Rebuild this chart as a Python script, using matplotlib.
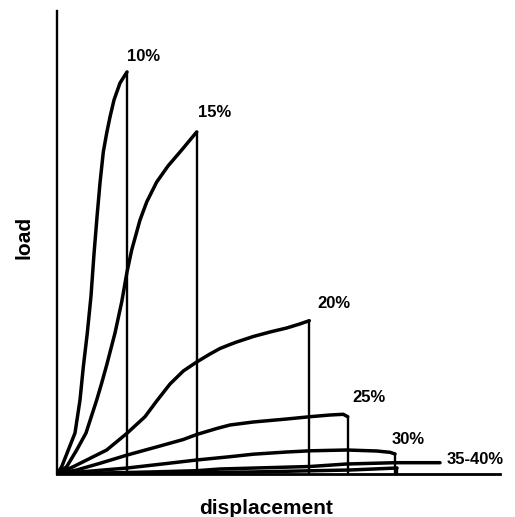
import matplotlib
matplotlib.use('Agg')
import matplotlib.pyplot as plt

plt.rcParams['font.family'] = ['Liberation Sans', 'DejaVu Sans']
plt.rcParams['font.weight'] = 'bold'

# 하중-변위 곡선 (임의 단위)
disp_10 = [0, 0.47, 1.13, 1.8, 2.3, 2.63, 3.03, 3.4, 3.7, 4.0, 4.3, 4.63, 4.97, 5.3, 5.7, 6.3, 7.0]
load_10 = [0, 0.73, 2.4, 4.1, 7.4, 10.7, 14.1, 17.8, 22.0, 25.7, 29.1, 32.2, 34.1, 35.7, 37.4, 39.1, 40.2]

disp_15 = [0, 0.97, 1.97, 2.9, 3.97, 4.47, 4.97, 5.8, 6.47, 7.0, 7.47, 8.3, 8.97, 9.97,
           11.1, 12.47, 13.3, 13.97]
load_15 = [0, 0.73, 2.4, 4.1, 7.4, 9.1, 10.9, 14.1, 17.2, 20.2, 22.4, 25.4, 27.2, 29.2,
           30.8, 32.4, 33.4, 34.2]

disp_20 = [0, 1.63, 3.63, 4.97, 7.03, 8.8, 9.97, 11.3, 12.63, 13.97, 15.3, 16.3, 17.3, 17.97,
           19.63, 21.3, 22.97, 24.27, 25.23]
load_20 = [0, 0.73, 1.73, 2.4, 4.1, 5.73, 7.3, 9.0, 10.3, 11.2, 12.0, 12.55, 12.95, 13.2,
           13.75, 14.2, 14.6, 15.0, 15.33]

disp_25 = [0, 1.97, 4.3, 7.03, 10.3, 12.63, 13.97, 15.97, 17.3, 19.63, 22.97, 25.3, 27.3, 28.63, 29.07]
load_25 = [0, 0.4, 1.07, 1.9, 2.8, 3.45, 3.95, 4.55, 4.9, 5.2, 5.5, 5.73, 5.9, 5.97, 5.73]

disp_30 = [0, 2.63, 7.03, 10.97, 13.97, 17.3, 19.63, 22.97, 25.3, 28.97, 31.97, 33.3, 33.8]
load_30 = [0, 0.23, 0.6, 1.05, 1.4, 1.73, 1.98, 2.2, 2.32, 2.4, 2.3, 2.17, 2.0]

disp_35 = [0, 9.3, 13.97, 16.3, 25.3, 28.97, 33.8, 38.3]
load_35 = [0, 0.2, 0.33, 0.5, 0.75, 1.0, 1.13, 1.13]

disp_40 = [0, 19.3, 29.3, 34.0]
load_40 = [0, 0.2, 0.4, 0.6]

labels = ['10%', '15%', '20%', '25%', '30%', '35-40%']
label_x = [7.0, 14.1, 26.0, 29.5, 33.5, 39.0]
label_y = [41.7, 36.1, 17.0, 7.7, 3.4, 1.5]

fig = plt.figure(figsize=(5.15, 5.17), dpi=100)
ax = fig.add_axes([57 / 515, 43 / 517, 443 / 515, 463 / 517])

curves = [(disp_10, load_10, True), (disp_15, load_15, True), (disp_20, load_20, True),
          (disp_25, load_25, True), (disp_30, load_30, True), (disp_35, load_35, False),
          (disp_40, load_40, True)]
for d, l, drop in curves:
    ax.plot(d, l, color='black', lw=2.5, solid_capstyle='round', solid_joinstyle='round')
    if drop:
        # 파단 시 수직 하강
        ax.plot([d[-1], d[-1]], [l[-1], 0], color='black', lw=1.7)

for txt, x, y in zip(labels, label_x, label_y):
    ax.text(x, y, txt, fontsize=12, fontweight='bold', ha='left', va='center')

ax.set_xlim(0, 44.3)
ax.set_ylim(0, 46.3)
ax.spines['top'].set_visible(False)
ax.spines['right'].set_visible(False)
ax.spines['left'].set_linewidth(1.7)
ax.spines['bottom'].set_linewidth(2.0)
ax.set_xticks([])
ax.set_yticks([])
ax.patch.set_alpha(0)

fig.text(266 / 515, 1 - 508 / 517, 'displacement', fontsize=15, fontweight='bold',
         ha='center', va='center')
fig.text(24 / 515, 1 - 237 / 517, 'load', fontsize=15, fontweight='bold',
         ha='center', va='center', rotation=90)

fig.savefig('out.png', dpi=100)
